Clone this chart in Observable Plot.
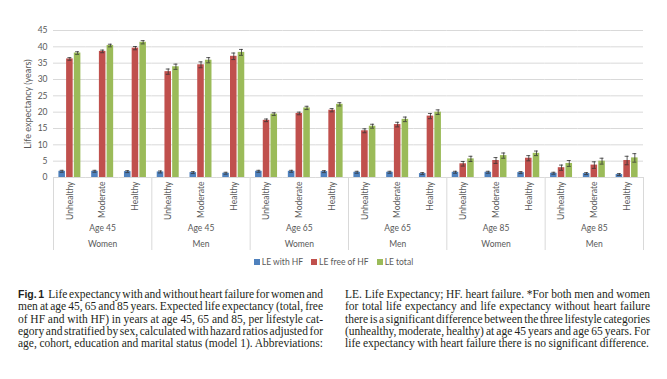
<!DOCTYPE html>
<html><head><meta charset="utf-8">
<script src="https://cdn.jsdelivr.net/npm/d3@7"></script>
<script src="https://cdn.jsdelivr.net/npm/@observablehq/plot@0.6"></script>
<style>
body{margin:0;background:#fff;}
#wrap{position:relative;width:667px;height:379px;overflow:hidden;background:#fff;}
#chart{position:absolute;left:0;top:0;}
#legend{position:absolute;top:256px;left:0;width:667px;text-align:center;font-family:Lato,sans-serif;font-size:8.5px;color:#595959;line-height:12px;white-space:nowrap;}
#legend .item{display:inline-block;margin:0 4px;}
#legend .sw{display:inline-block;width:6px;height:6px;margin-right:2px;vertical-align:0px;}
.col{position:absolute;top:288px;width:305px;font-family:"Liberation Serif","Times New Roman",serif;font-size:11.5px;line-height:12.25px;color:#231f20;}
.col .ln{white-space:nowrap;text-align:justify;text-align-last:justify;height:12.25px;}
.col .ln.last{text-align-last:left;text-align:left;}
.fig{font-family:"Liberation Sans",Arial,sans-serif;font-weight:bold;font-size:10.5px;margin-right:4px;}
</style></head><body>
<div id="wrap">
<div id="chart"></div>
<div id="legend"></div>
<div class="col" id="colL" style="left:18px;"></div>
<div class="col" id="colR" style="left:345px;"></div>
</div>
<script>
// ---- data ----
const groupLabels = ["Age 45","Age 45","Age 65","Age 65","Age 85","Age 85"];
const sexLabels = ["Women","Men","Women","Men","Women","Men"];
const lifestyles = ["Unhealthy","Moderate","Healthy"];
const series = ["LE with HF","LE free of HF","LE total"];
const colors = ["#4f81bd","#c0504d","#9bbb59"];
const leWithHF = [1.9,1.9,1.8, 1.7,1.5,1.3, 1.9,1.9,1.8, 1.6,1.6,1.2, 1.6,1.6,1.5, 1.3,1.2,0.9];
const leFreeHF = [36.3,38.6,39.6, 32.4,34.5,37.1, 17.5,19.6,20.6, 14.3,16.2,18.8, 4.2,5.2,5.9, 3.0,3.8,5.2];
const leTotal  = [38.1,40.4,41.4, 33.9,35.9,38.3, 19.4,21.3,22.4, 15.7,17.8,20.0, 5.7,6.7,7.4, 4.3,5.0,6.0];
const errWithHF = [0.3,0.3,0.3, 0.3,0.3,0.3, 0.3,0.3,0.3, 0.3,0.3,0.3, 0.3,0.3,0.3, 0.3,0.3,0.3];
const errFreeHF = [0.4,0.4,0.5, 0.8,0.9,1.0, 0.4,0.4,0.5, 0.6,0.7,0.8, 0.7,0.9,0.8, 0.8,1.0,1.3];
const errTotal  = [0.4,0.4,0.5, 0.8,0.8,0.9, 0.4,0.5,0.5, 0.6,0.7,0.7, 0.8,0.8,0.7, 0.9,0.9,1.3];
const yTicks = [0,5,10,15,20,25,30,35,40,45];
const yLabel = "Life expectancy (years)";

const captionLeft = [
  "Life expectancy with and without heart failure for women and",
  "men at age 45, 65 and 85 years. Expected life expectancy (total, free",
  "of HF and with HF) in years at age 45, 65 and 85, per lifestyle cat-",
  "egory and stratified by sex, calculated with hazard ratios adjusted for",
  "age, cohort, education and marital status (model 1). Abbreviations:"
];
const captionRight = [
  "LE. Life Expectancy; HF. heart failure. *For both men and women",
  "for total life expectancy and life expectancy without heart failure",
  "there is a significant difference between the three lifestyle categories",
  "(unhealthy, moderate, healthy) at age 45 years and age 65 years. For",
  "life expectancy with heart failure there is no significant difference."
];

// ---- build table ----
const keys = [];
groupLabels.forEach((g, gi) => lifestyles.forEach(l => keys.push(gi + "|" + l)));
const vals = [leWithHF, leFreeHF, leTotal];
const errs = [errWithHF, errFreeHF, errTotal];
const rows = [];
keys.forEach((k, i) => series.forEach((s, si) => rows.push({key: k, series: s, value: vals[si][i], err: errs[si][i]})));
const gIdx = groupLabels.map((_, i) => i);

const W = 667, H = 256, ML = 53, MR = 24, MT = 30, MB = 79;
const step = (W - ML - MR) / keys.length;
const sepLen = 73; // separator length below the baseline, px
const sepBottom = -sepLen * (45 / (H - MT - MB)); // same, in y units
const txt = "#595959", grid = "#d9d9d9";

const chart = Plot.plot({
  width: W, height: H, marginLeft: ML, marginRight: MR, marginTop: MT, marginBottom: MB,
  style: {fontFamily: "Lato, sans-serif", fontSize: "8.5px", color: txt, background: "#fff"},
  fx: {domain: keys, padding: 0, round: false, axis: "bottom", tickRotate: -90, tickSize: 0, tickPadding: 4,
       tickFormat: d => d.split("|")[1], label: null},
  x: {domain: series, paddingInner: 0.15, paddingOuter: 0.7, round: false, axis: null},
  y: {domain: [0, 45], ticks: yTicks, tickSize: 0, tickPadding: 6, label: null},
  color: {domain: series, range: colors},
  marks: [
    Plot.ruleY(yTicks, {stroke: grid, strokeWidth: 1}),
    Plot.barY(rows, {fx: "key", x: "series", y: "value", fill: "series"}),
    Plot.ruleX(rows, {fx: "key", x: "series", y1: d => d.value - d.err, y2: d => d.value + d.err, stroke: "#333", strokeWidth: 0.8}),
    Plot.tickY(rows, {fx: "key", x: "series", y: d => d.value - d.err, insetLeft: 1.3, insetRight: 1.3, stroke: "#333", strokeWidth: 0.8}),
    Plot.tickY(rows, {fx: "key", x: "series", y: d => d.value + d.err, insetLeft: 1.3, insetRight: 1.3, stroke: "#333", strokeWidth: 0.8}),
    Plot.ruleX(gIdx, {fx: i => keys[3 * i], x: null, y1: () => 0, y2: () => sepBottom, dx: -step / 2, stroke: grid}),
    Plot.ruleX([gIdx.length - 1], {fx: i => keys[3 * i + 2], x: null, y1: () => 0, y2: () => sepBottom, dx: step / 2, stroke: grid}),
    Plot.text(gIdx, {fx: i => keys[3 * i + 1], text: i => groupLabels[i], frameAnchor: "bottom", lineAnchor: "middle", dy: 51, fill: txt}),
    Plot.text(gIdx, {fx: i => keys[3 * i + 1], text: i => sexLabels[i], frameAnchor: "bottom", lineAnchor: "middle", dy: 67, fill: txt}),
    Plot.text([yLabel], {fx: () => keys[0], text: d => d, frameAnchor: "left", textAnchor: "middle", lineAnchor: "middle",
      rotate: -90, dx: -25, fill: txt, fontSize: 9})
  ]
});
document.getElementById("chart").appendChild(chart);

// legend
const leg = document.getElementById("legend");
series.forEach((s, i) => {
  const it = document.createElement("span"); it.className = "item";
  const sw = document.createElement("span"); sw.className = "sw"; sw.style.background = colors[i];
  it.appendChild(sw); it.appendChild(document.createTextNode(s)); leg.appendChild(it);
});

// caption: one div per printed line, tightened when a line is naturally too wide
const colW = 305;
function fill(id, lines, first) {
  const el = document.getElementById(id);
  lines.forEach((t, i) => {
    const d = document.createElement("div"); d.className = "ln";
    const isLast = id === "colR" && i === lines.length - 1;
    if (isLast) d.classList.add("last");
    const inner = document.createElement("span");
    if (first && i === 0) { const b = document.createElement("span"); b.className = "fig"; b.textContent = first; inner.appendChild(b); }
    inner.appendChild(document.createTextNode(t));
    d.appendChild(inner);
    el.appendChild(d);
    const w = inner.getBoundingClientRect().width;
    if (w > colW - 1) {
      const spaces = (t.match(/ /g) || []).length + (first && i === 0 ? 1 : 0);
      const excess = w - (colW - 1);
      let ws = excess / spaces;
      let ls = 0;
      if (ws > 1.3) { ls = (excess - 1.3 * spaces) / t.length; ws = 1.3; }
      d.style.wordSpacing = (-ws) + "px";
      d.style.letterSpacing = (-ls) + "px";
    }
    // unwrap so justification applies to the line itself
    while (inner.firstChild) d.insertBefore(inner.firstChild, inner);
    d.removeChild(inner);
  });
}
fill("colL", captionLeft, "Fig. 1");
fill("colR", captionRight, null);
</script>
</body></html>
